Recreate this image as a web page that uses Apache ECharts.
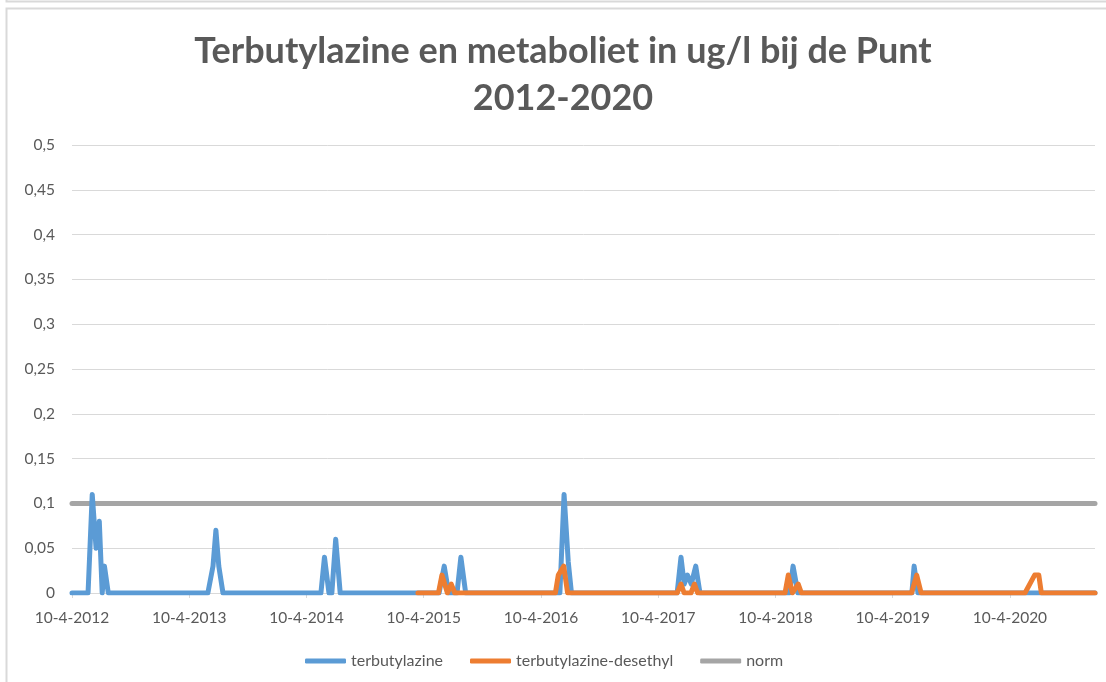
<!DOCTYPE html>
<html><head><meta charset="utf-8">
<script src="https://cdn.jsdelivr.net/npm/echarts@6/dist/echarts.min.js"></script>
<style>html,body{margin:0;padding:0;background:#fff}#c{width:1106px;height:682px}</style>
</head><body><div id="c"></div>
<script>
const chartTitle = 'Terbutylazine en metaboliet in ug/l bij de Punt\n2012-2020';
const seriesNames = ['terbutylazine', 'terbutylazine-desethyl', 'norm'];
const xTickLabels = ['10-4-2012','10-4-2013','10-4-2014','10-4-2015','10-4-2016','10-4-2017','10-4-2018','10-4-2019','10-4-2020'];
const axisStart = '10-4-2012';
const axisEnd = '31-12-2020';

const terbDates = ['10-4-2012','30-5-2012','12-6-2012','24-6-2012','4-7-2012','13-7-2012','20-7-2012','26-7-2012','1-8-2012',
  '7-6-2013','23-6-2013','2-7-2013','11-7-2013','24-7-2013',
  '25-5-2014','5-6-2014','19-6-2014','28-6-2014','10-7-2014','24-7-2014',
  '28-5-2015','13-6-2015','27-6-2015','23-7-2015','4-8-2015','19-8-2015',
  '8-6-2016','21-6-2016','4-7-2016','14-7-2016',
  '8-6-2017','20-6-2017','30-6-2017','10-7-2017','22-7-2017','5-8-2017','18-8-2017',
  '24-5-2018','4-6-2018','19-6-2018',
  '9-6-2019','16-6-2019','28-6-2019',
  '31-12-2020'];
const terbValues = [0,0,0.11,0.05,0.08,0,0.03,0.03,0,
  0,0.03,0.07,0.03,0,
  0,0.04,0,0,0.06,0,
  0,0.03,0,0,0.04,0,
  0,0.11,0.035,0,
  0,0.04,0.01,0.02,0.01,0.03,0,
  0,0.03,0,
  0,0.03,0,
  0];

const desDates = ['23-3-2015','26-5-2015','6-6-2015','23-6-2015','5-7-2015','16-7-2015',
  '25-5-2016','3-6-2016','20-6-2016','2-7-2016',
  '8-6-2017','20-6-2017','30-6-2017','21-7-2017','1-8-2017','11-8-2017',
  '10-5-2018','20-5-2018','2-6-2018','20-6-2018','30-6-2018',
  '8-6-2019','24-6-2019','8-7-2019',
  '27-5-2020','26-6-2020','9-7-2020','17-7-2020',
  '31-12-2020'];
const desValues = [0,0,0.02,0,0.01,0,
  0,0.02,0.03,0,
  0,0.01,0,0,0.01,0,
  0,0.02,0,0.01,0,
  0,0.02,0,
  0,0.02,0.02,0,
  0];

const normDates = ['10-4-2012','31-12-2020'];
const normValues = [0.1, 0.1];

// date -> position on axis measured in years since 10-4-2012 (anniversary based)
function parseDate(s){const p=s.split('-').map(Number);return Date.UTC(p[2],p[1]-1,p[0]);}
function pos(s){
  const t=parseDate(s);const y=new Date(t).getUTCFullYear();
  let k=y-2012; if(t<Date.UTC(y,3,10)) k--;
  const a=Date.UTC(2012+k,3,10), b=Date.UTC(2013+k,3,10);
  return k+(t-a)/(b-a);
}
const pairs=(ds,vs)=>ds.map((d,i)=>[pos(d),vs[i]]);

const txt='#595959', grid='#d9d9d9', FONT='Lato';
const lineCommon={cap:'round',join:'round',width:5};
const chart=echarts.init(document.getElementById('c'),null,{renderer:'canvas'});
chart.setOption({
  animation:false,
  backgroundColor:'#fff',
  textStyle:{fontFamily:FONT},
  graphic:[
    {type:'polyline',shape:{points:[[6.5,-5],[6.5,1.5],[1110,1.5]]},style:{stroke:grid,lineWidth:2,fill:null},silent:true},
    {type:'rect',shape:{x:6.5,y:8.5,width:1200,height:800},style:{stroke:grid,lineWidth:2,fill:null},silent:true}
  ],
  title:{text:chartTitle,left:558,top:23,textAlign:'center',
    textStyle:{fontFamily:FONT,fontWeight:'bold',fontSize:36,color:txt,lineHeight:47}},
  legend:{data:seriesNames,left:300,top:648,icon:'roundRect',itemWidth:41,itemHeight:5,itemGap:27,
    textStyle:{fontFamily:FONT,fontSize:16,color:txt}},
  grid:{left:72,right:11,top:145,bottom:89,containLabel:false},
  xAxis:{type:'value',min:pos(axisStart),max:pos(axisEnd),interval:1,
    axisLine:{lineStyle:{color:grid,width:1}},
    axisTick:{length:5,lineStyle:{color:grid},customValues:xTickLabels.map((_,i)=>i)},
    axisLabel:{color:txt,fontSize:15.5,fontFamily:FONT,margin:17,customValues:xTickLabels.map((_,i)=>i),
      formatter:v=>xTickLabels[Math.round(v)]||''},
    splitLine:{show:false}},
  yAxis:{type:'value',min:0,max:0.5,interval:0.05,
    axisLine:{show:false},axisTick:{show:false},
    axisLabel:{color:txt,fontSize:15.5,fontFamily:FONT,margin:17,
      formatter:v=>v===0?'0':String(+v.toFixed(2)).replace('.',',')},
    splitLine:{lineStyle:{color:grid,width:1}}},
  series:[
    {name:seriesNames[0],type:'line',data:pairs(terbDates,terbValues),showSymbol:false,symbol:'none',z:3,
      color:'#5b9bd5',lineStyle:Object.assign({color:'#5b9bd5'},lineCommon)},
    {name:seriesNames[1],type:'line',data:pairs(desDates,desValues),showSymbol:false,symbol:'none',z:4,
      color:'#ed7d31',lineStyle:Object.assign({color:'#ed7d31'},lineCommon)},
    {name:seriesNames[2],type:'line',data:pairs(normDates,normValues),showSymbol:false,symbol:'none',z:2,
      color:'#a5a5a5',lineStyle:Object.assign({color:'#a5a5a5'},lineCommon)}
  ]
});
</script></body></html>
